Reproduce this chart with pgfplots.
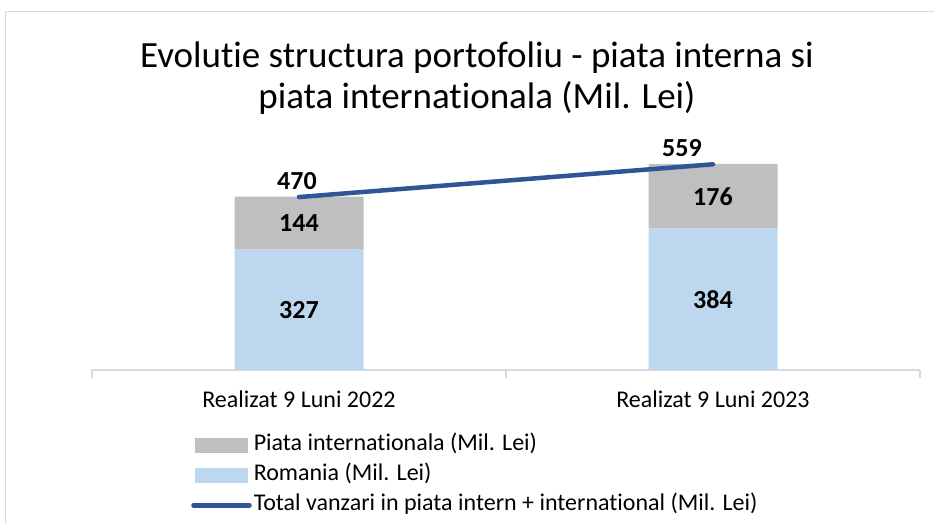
\documentclass[border=0pt]{standalone}
\usepackage{pgfplots}
\pgfplotsset{compat=1.18}
\usepackage{fontspec}
\setmainfont{Carlito}[Ligatures=NoCommon]
\definecolor{romania}{HTML}{BDD7EE}
\definecolor{intl}{HTML}{BFBFBF}
\definecolor{total}{HTML}{2F5597}
\definecolor{framec}{HTML}{D9D9D9}
\begin{document}
\begin{tikzpicture}
\useasboundingbox (0pt,0pt) rectangle (934pt,-524pt);
\draw[framec, line width=1pt] (5pt,-524pt) -- (5pt,-12pt) -- (934pt,-12pt);
\node[font=\fontsize{37}{40}\selectfont, anchor=base, inner sep=0pt] at (477pt,-68pt) {Evolutie structura portofoliu - piata interna si};
\node[font=\fontsize{37}{40}\selectfont, anchor=base, inner sep=0pt] at (477pt,-109pt) {piata internationala (Mil. Lei)};
\begin{axis}[
  at={(92pt,-370pt)}, anchor=south west,
  x=414pt, y=0.368pt, xmin=-0.5, xmax=1.5, ymin=0, ymax=600,
  ybar stacked, bar width=129pt,
  axis x line*=bottom, hide y axis,
  axis line style={framec, line width=1.2pt},
  xtick={0,1}, xticklabels={Realizat 9 Luni 2022, Realizat 9 Luni 2023},
  major tick length=0pt,
  extra x ticks={-0.5,0.5,1.5}, extra x tick labels={},
  extra x tick style={major tick length=8pt, tick align=outside, tick style={framec, line width=1.2pt}},
  xticklabel style={font=\fontsize{24}{28}\selectfont, yshift=-17pt},
  clip=false,
]
\addplot[fill=romania, draw=none] coordinates {(0,327) (1,384)};
\addplot[fill=intl, draw=none] coordinates {(0,144) (1,176)};
\end{axis}
\begin{axis}[
  at={(92pt,-370pt)}, anchor=south west,
  x=414pt, y=0.368pt, xmin=-0.5, xmax=1.5, ymin=0, ymax=600,
  hide axis, clip=false,
  legend style={at={(0.116,-0.270)}, anchor=north west, draw=none, fill=none,
    font=\fontsize{24}{28}\selectfont, row sep=3pt,
    nodes={inner sep=2pt, text height=17pt, text depth=6pt}},
  legend cell align=left,
]
\addlegendimage{legend image code/.code={\fill[intl] (0pt,-7pt) rectangle (52pt,7pt);}}
\addlegendentry{Piata internationala (Mil. Lei)}
\addlegendimage{legend image code/.code={\fill[romania] (0pt,-7pt) rectangle (52pt,7pt);}}
\addlegendentry{Romania (Mil. Lei)}
\addplot[total, line width=4.5pt, line cap=round, mark=none,
  legend image code/.code={\draw[total, line width=4.5pt, line cap=round] (-2pt,0pt) -- (54pt,0pt);},
  nodes near coords, point meta=explicit symbolic,
  visualization depends on=x \as \myx,
  nodes near coords style={font=\bfseries\fontsize{26}{30}\selectfont, text=black, anchor=south, inner sep=2pt, yshift=3pt, xshift=-2-29*\myx}]
  coordinates {(0,470) [470] (1,559) [559]};
\addlegendentry{Total vanzari in piata intern + international (Mil. Lei)}
% segment labels at the middle of each stacked segment
\addplot[draw=none, mark=none, forget plot,
  nodes near coords, point meta=explicit symbolic,
  nodes near coords style={font=\bfseries\fontsize{26}{30}\selectfont, text=black, anchor=center, inner sep=0pt}]
  coordinates {(0,163.5) [327] (0,399) [144] (1,192) [384] (1,472) [176]};
\end{axis}
\end{tikzpicture}
\end{document}
